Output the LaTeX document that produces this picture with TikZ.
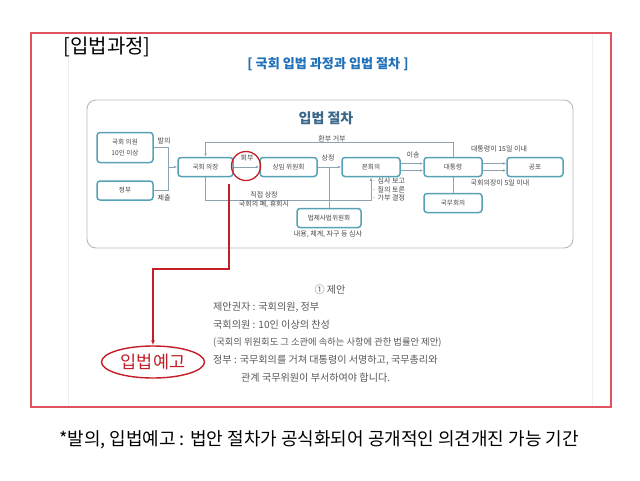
\documentclass[tikz,border=0pt]{standalone}
\usepackage{fontspec}
\setmainfont{Noto Sans CJK KR}
\usetikzlibrary{arrows.meta}
\usetikzlibrary{shapes.geometric}
\definecolor{framered}{RGB}{222,84,92}
\definecolor{markred}{RGB}{196,30,40}
\definecolor{titleblue}{RGB}{32,112,186}
\definecolor{headblue}{RGB}{58,104,138}
\definecolor{boxteal}{RGB}{86,162,182}
\definecolor{linegray}{RGB}{140,164,178}
\definecolor{textgray}{RGB}{70,70,70}
\tikzset{
	procbox/.style={draw=boxteal, line width=1.5pt, rounded corners=3pt, fill=white, minimum height=19pt, minimum width=57pt, inner sep=1pt, align=center, text=textgray, font=\fontsize{6.6}{7.5}\selectfont},
	lbl/.style={inner sep=0pt, align=center, text=textgray, font=\fontsize{7}{8.5}\selectfont},
	conn/.style={draw=linegray, line width=0.6pt},
	flow/.style={conn, -{Latex[length=3.5pt,width=2.6pt]}},
	redline/.style={draw=markred, line width=1.1pt, -{Latex[length=5pt,width=4pt]}},
	notetext/.style={inner sep=0pt, anchor=west, text=textgray!90, font=\fontsize{10.1}{12}\selectfont}
}
\begin{document}
\begin{tikzpicture}[x=1pt, y=-1pt]
							\def\dbl{3.5pt}
							\useasboundingbox (0,0) rectangle (640,480);
							\fill[white] (0,0) rectangle (640,480);

							\draw[gray!12] (68,34) -- (68,406);
							\draw[gray!12] (592,34) -- (592,406);
							\draw[framered, line width=1.2pt] (31,33) rectangle (611,407);

							\node[anchor=west, font=\fontsize{20}{23}\selectfont] (head) at (60,47) {[입법과정]};
							\node[text=titleblue, font=\fontsize{13.1}{15}\selectfont\bfseries] (maintitle) at (328,64) {[ 국회 입법 과정과 입법 절차 ]};

							\draw[gray!55, line width=0.9pt, rounded corners=9pt] (87,100) rectangle (573,248);
							\node[text=headblue, font=\fontsize{14}{16}\selectfont\bfseries] (flowtitle) at (326,118) {입법 절차};

							\node[procbox, minimum height=30pt, minimum width=56pt] (member) at (125,147.5) {국회 의원\\[3pt]10인 이상};
							\node[procbox, minimum width=56pt] (gov) at (125,190.5) {정부};
							\node[procbox, minimum width=55pt] (speaker) at (205.5,167) {국회 의장};
							\node[procbox] (standing) at (288.5,167) {상임 위원회};
							\node[procbox, minimum width=58pt] (plenary) at (371,167) {본회의};
							\node[procbox, minimum width=58pt] (president) at (453,167) {대통령};
							\node[procbox, minimum width=56pt] (promul) at (535,167) {공포};
							\node[procbox, minimum width=58pt] (cabinet) at (453,203) {국무회의};
							\node[procbox, minimum width=64pt] (judiciary) at (329,218) {법제사법위원회};

							\coordinate (join) at (168,167);
							\draw[conn] (member.east) -| (join);
							\draw[conn] (gov.east) -| (join);
							\draw[flow] (join) -- (speaker.west);
							\draw[flow] (speaker) -- (standing);
							\draw[flow] (standing) -- (plenary);
							\draw[conn] (judiciary.north) -- (judiciary.north |- standing.east);
							\draw[flow] ([yshift=\dbl]plenary.east) -- ([yshift=\dbl]president.west);
							\draw[flow] ([yshift=-\dbl]plenary.east) -- ([yshift=-\dbl]president.west);
							\draw[flow] ([yshift=\dbl]president.east) -- ([yshift=\dbl]promul.west);
							\draw[flow] ([yshift=-\dbl]president.east) -- ([yshift=-\dbl]promul.west);
							\draw[flow] (president.north) -- ++(0,-14) -| (speaker.north);
							\draw[conn] (president) -- (cabinet);
							\draw[flow] (speaker.south) -- ++(0,23) -| (plenary.south);

							\node[lbl] (lbpropose) at (164,141) {발의};
							\node[lbl] (lbsubmit) at (164,198) {제출};
							\node[lbl] (lbrefer) at (247,158) {회부};
							\node[lbl] (lbtable) at (328,158) {상정};
							\node[lbl] (lbveto) at (332,139) {환부 거부};
							\node[lbl] (lbsend) at (413,155) {이송};
							\node[lbl] (lbfifteen) at (499,149) {대통령이 15일 이내};
							\node[lbl] (lbfive) at (500,183) {국회의장이 5일 이내};
							\node[lbl] (lbdirect) at (264,200) {직접 상정\\국회의 폐, 휴회시};
							\node[lbl, anchor=north west, align=left] (lbsteps) at (372,178) {· 심사 보고\\· 질의 토론\\· 가부 결정};
							\node[lbl] (lbreview) at (328,234) {내용, 체계, 자구 등 심사};

							\node[circle, draw=markred, line width=1.3pt, minimum size=29pt] (refcircle) at (246,166) {};
							\coordinate (redstart) at (229,184);
							\node[ellipse, draw=markred, line width=1.4pt, minimum width=103pt, minimum height=32pt, text=markred, font=\fontsize{17.5}{20}\selectfont] (notice) at (153,362) {입법예고};
							\draw[redline] (redstart) -- ++(0,85) -| (notice.north);

							\node[notetext, anchor=center] (proptitle) at (330,290) {① 제안};
							\node[notetext] (propline1) at (213,307) {제안권자 : 국회의원, 정부};
							\node[notetext] (propline2) at (213,325) {국회의원 : 10인 이상의 찬성};
							\node[notetext, font=\fontsize{9.3}{11}\selectfont] (propline3) at (213,343) {(국회의 위원회도 그 소관에 속하는 사항에 관한 법률안 제안)};
							\node[notetext] (propline4) at (213,360) {정부 : 국무회의를 거쳐 대통령이 서명하고, 국무총리와};
							\node[notetext] (propline5) at (241,378) {관계 국무위원이 부서하여야 합니다.};

							\node[font=\fontsize{18}{21}\selectfont] (footer) at (319,440) {*발의, 입법예고 : 법안 절차가 공식화되어 공개적인 의견개진 가능 기간};
						\end{tikzpicture}
\end{document}
